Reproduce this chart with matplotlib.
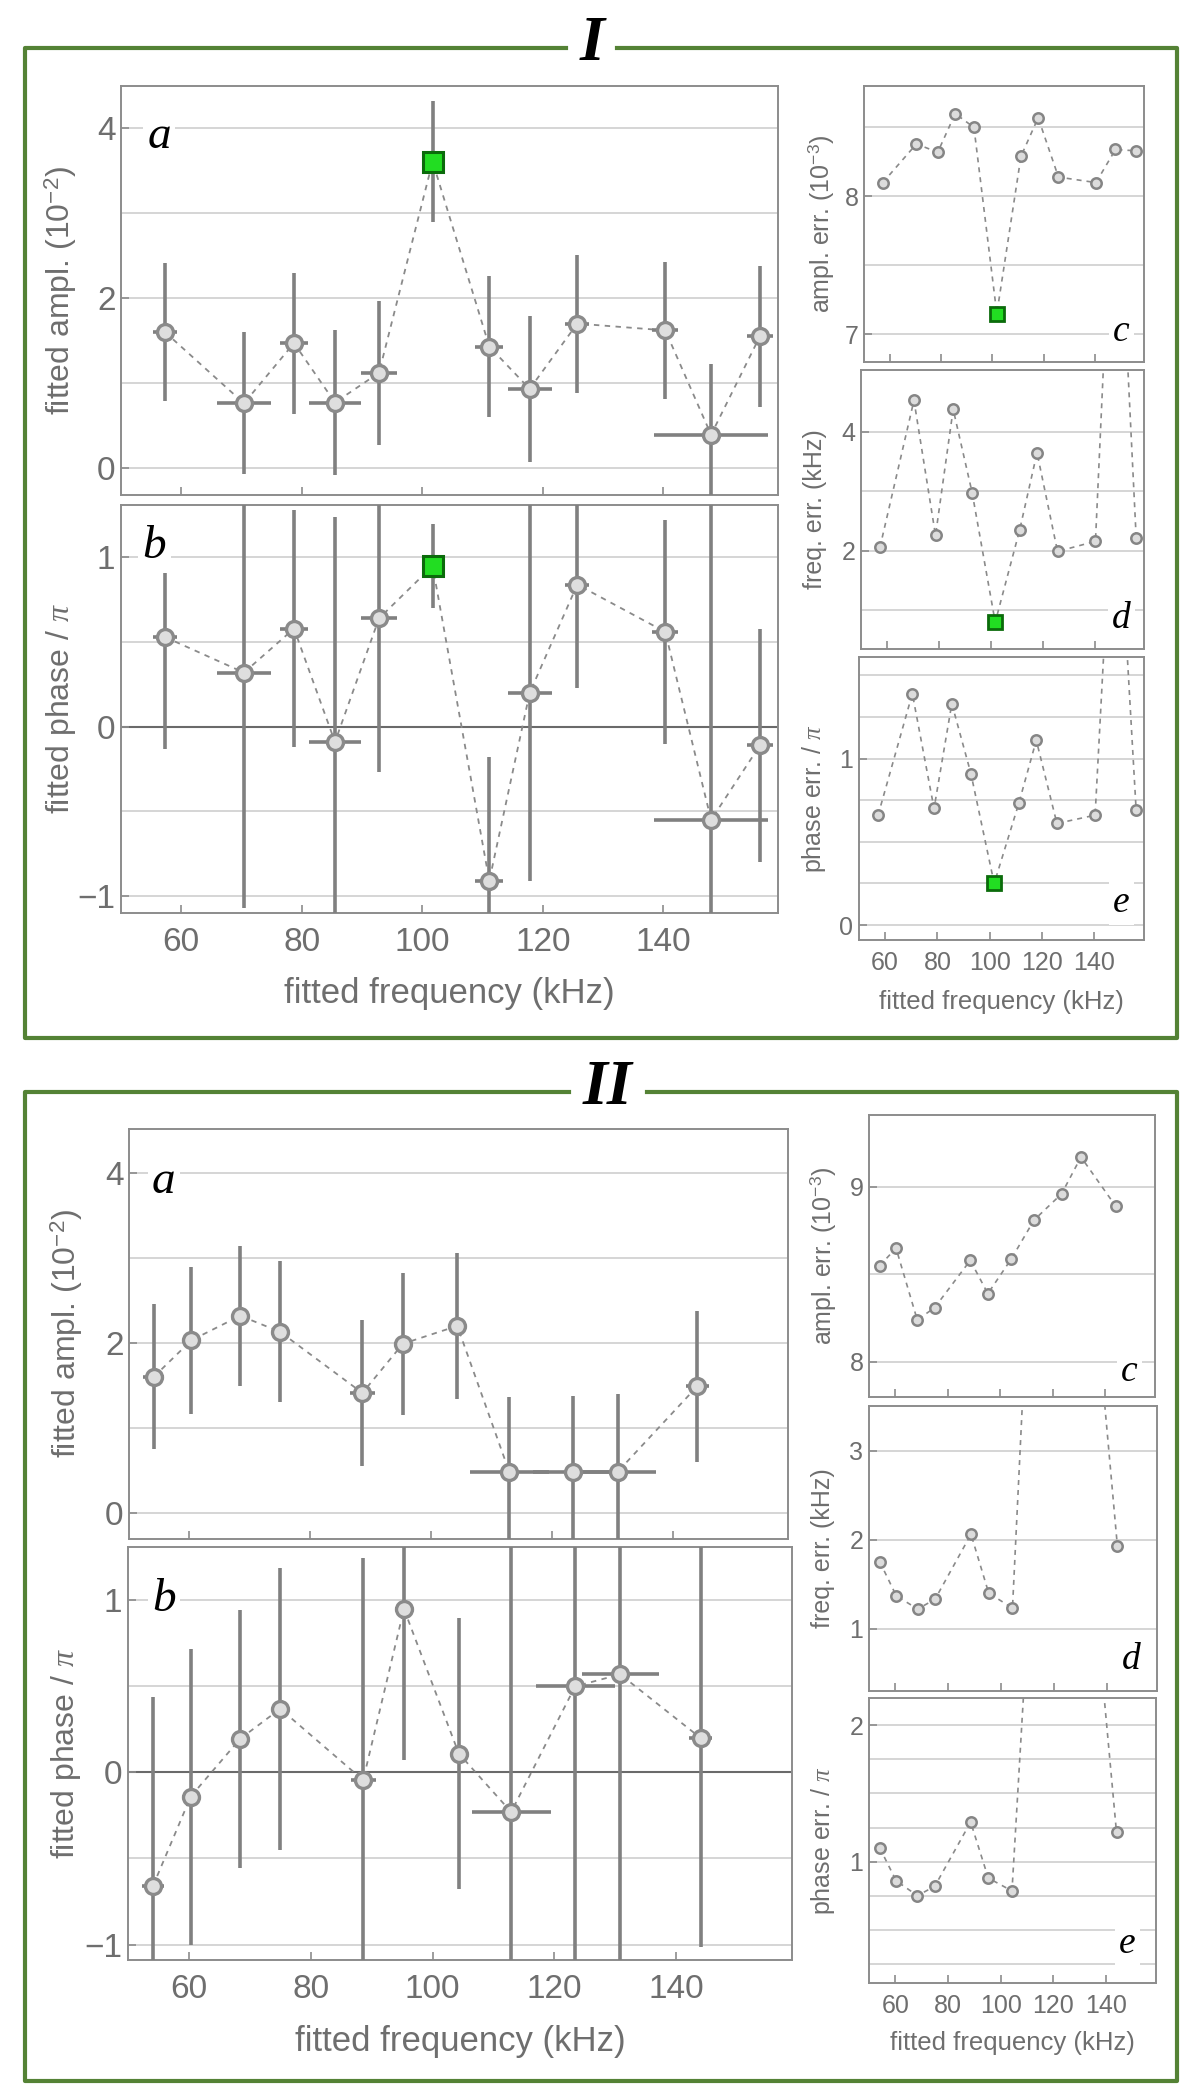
import matplotlib
matplotlib.use('Agg')
import matplotlib.pyplot as plt
from matplotlib.lines import Line2D

plt.rcParams['font.family'] = ['Liberation Sans', 'DejaVu Sans']
plt.rcParams['mathtext.fontset'] = 'custom'
plt.rcParams['mathtext.rm'] = 'Liberation Sans'
plt.rcParams['mathtext.it'] = 'Liberation Serif:italic'

# ---- panel I data ----
freq_I = [57.3, 70.4, 78.7, 85.5, 92.8, 101.7, 111.1, 117.8, 125.7, 140.3, 147.9, 156.0]
ampl_I = [1.60, 0.76, 1.47, 0.77, 1.12, 3.61, 1.43, 0.93, 1.70, 1.62, 0.39, 1.55]          # 1e-2
phase_I = [0.53, 0.32, 0.58, -0.09, 0.64, 0.95, -0.91, 0.20, 0.84, 0.56, -0.55, -0.11]    # / pi
ampl_err_I = [8.10, 8.38, 8.32, 8.60, 8.50, 7.15, 8.29, 8.57, 8.14, 8.10, 8.34, 8.33]     # 1e-3
freq_err_I = [2.06, 4.53, 2.26, 4.38, 2.98, 0.80, 2.35, 3.65, 1.99, 2.16, 9.4, 2.21]      # kHz
phase_err_I = [0.66, 1.39, 0.70, 1.33, 0.91, 0.25, 0.73, 1.11, 0.61, 0.66, 2.9, 0.69]     # / pi
best_I = 5

# ---- panel II data ----
freq_II = [54.1, 60.3, 68.4, 75.0, 88.6, 95.3, 104.3, 112.9, 123.4, 130.8, 144.0]
ampl_II = [1.60, 2.03, 2.32, 2.13, 1.41, 1.99, 2.20, 0.48, 0.48, 0.48, 1.49]
phase_II = [-0.66, -0.14, 0.195, 0.37, -0.045, 0.95, 0.11, -0.23, 0.50, 0.57, 0.20]
ampl_err_II = [8.55, 8.65, 8.24, 8.31, 8.58, 8.39, 8.59, 8.81, 8.96, 9.17, 8.89]
freq_err_II = [1.75, 1.37, 1.22, 1.33, 2.06, 1.40, 1.23, 6.5, 6.5, 6.3, 1.93]
phase_err_II = [1.10, 0.86, 0.75, 0.82, 1.29, 0.88, 0.785, 3.6, 3.8, 4.0, 1.215]

xticks = [60, 80, 100, 120, 140]

W, H = 1200, 2100
fig = plt.figure(figsize=(12, 21), dpi=100)
fig.patch.set_facecolor('white')

GREEN = '#548235'
TXT = '#6e6e6e'
SPINE = '#8c8c8c'


def box(l, t, r, b):
    # axes from pixel box (top-left origin)
    return fig.add_axes([l / W, 1 - b / H, (r - l) / W, (b - t) / H])


def style(ax, ylim, yticks, grid, fs, labels=True, zero=False, pad=6):
    ax.set_xlim(50, 159)
    ax.set_ylim(ylim)
    for s in ax.spines.values():
        s.set_color(SPINE)
        s.set_linewidth(1.4)
    ax.set_xticks(xticks)
    ax.set_yticks(yticks)
    ax.tick_params(direction='in', color=SPINE, labelcolor=TXT, labelsize=fs,
                   length=6, width=1.2, top=False, right=False, pad=pad)
    ax.tick_params(axis='y', pad=4)
    if not labels:
        ax.tick_params(labelbottom=False)
    for g in grid:
        ax.axhline(g, color='#d2d2d2', lw=1.3, zorder=0)
    if zero:
        ax.axhline(0, color='#6a6a6a', lw=1.5, zorder=0.5)


def big_plot(ax, f, y, ferr, yerr, hi=None):
    ax.plot(f, y, ls=(0, (3, 3)), color='#8a8a8a', lw=1.3, zorder=2)
    ax.errorbar(f, y, xerr=ferr, yerr=yerr, fmt='none', ecolor='#808080',
                elinewidth=2.6, capsize=0, zorder=3)
    idx = [i for i in range(len(f)) if i != hi]
    ax.plot([f[i] for i in idx], [y[i] for i in idx], 'o', ms=11.5, mfc='#dedede',
            mec='#8a8a8a', mew=2.4, zorder=4)
    if hi is not None:
        ax.plot(f[hi], y[hi], 's', ms=14, mfc='#22dd22', mec='#0b6b0b', mew=2.2, zorder=5)


def small_plot(ax, f, y, hi=None):
    ax.plot(f, y, ls=(0, (3, 3)), color='#8a8a8a', lw=1.2, zorder=2)
    idx = [i for i in range(len(f)) if i != hi]
    ax.plot([f[i] for i in idx], [y[i] for i in idx], 'o', ms=7.5, mfc='#dcdcdc',
            mec='#858585', mew=1.8, zorder=4)
    if hi is not None:
        ax.plot(f[hi], y[hi], 's', ms=10, mfc='#22dd22', mec='#0b6b0b', mew=2, zorder=5)


def tag(ax, s, x, y, fs, ha='left'):
    ax.text(x, y, s, transform=ax.transAxes, fontsize=fs, family='Liberation Serif',
            style='italic', ha=ha, va='center', zorder=10,
            bbox=dict(fc='white', ec='none', pad=3))


def ylab(ax, s, xpx, fs):
    ax.set_ylabel(s, fontsize=fs, color=TXT, va='center')
    l = ax.get_position().x0 * W
    w = ax.get_position().width * W
    ax.yaxis.set_label_coords((xpx - l) / w, 0.5)


def xlab(ax, s, ypx, fs):
    ax.set_xlabel(s, fontsize=fs, color=TXT, va='center')
    b = (1 - ax.get_position().y0) * H
    h = ax.get_position().height * H
    ax.xaxis.set_label_coords(0.5, -(ypx - b) / h)


# ---- frames and titles ----
bg = fig.add_axes([0, 0, 1, 1], zorder=-5)
bg.set_xlim(0, W)
bg.set_ylim(H, 0)
bg.axis('off')
for top, bot, g0, g1, title, tx in [(48, 1038, 566, 617, 'I', 592),
                                     (1092, 2081, 569, 647, 'II', 607)]:
    bg.add_line(Line2D([g0, 25, 25, 1177, 1177, g1], [top, top, bot, bot, top, top],
                       color=GREEN, lw=3))
    bg.text(tx, top - 3, title, fontsize=46, family='Liberation Serif', weight='bold',
            style='italic', ha='center', va='center')

# ---- panel I ----
a1 = box(121, 86, 778, 495)
style(a1, (-0.32, 4.5), [0, 2, 4], [0, 1, 2, 3, 4], 24, labels=False)
big_plot(a1, freq_I, ampl_I, freq_err_I, [e / 10 for e in ampl_err_I], best_I)
tag(a1, 'a', 0.040, 0.875, 34)
ylab(a1, r'fitted ampl. (10$^{-2}$)', 61, 23)

b1 = box(121, 505, 778, 913)
style(b1, (-1.1, 1.31), [-1, 0, 1], [-1, -0.5, 0.5, 1], 24, zero=True, pad=10)
big_plot(b1, freq_I, phase_I, freq_err_I, phase_err_I, best_I)
tag(b1, 'b', 0.033, 0.897, 34)
ylab(b1, r'fitted phase / $\pi$', 61, 23)
xlab(b1, 'fitted frequency (kHz)', 993, 25)

c1 = box(864, 86, 1144, 362)
style(c1, (6.8, 8.8), [7, 8], [7, 7.5, 8, 8.5], 18, labels=False)
small_plot(c1, freq_I, ampl_err_I, best_I)
tag(c1, 'c', 0.92, 0.11, 27, ha='center')
ylab(c1, r'ampl. err. (10$^{-3}$)', 821, 18)

d1 = box(861, 370, 1144, 649)
style(d1, (0.35, 5.04), [2, 4], [1, 2, 3, 4], 18, labels=False)
small_plot(d1, freq_I, freq_err_I, best_I)
tag(d1, 'd', 0.92, 0.11, 27, ha='center')
ylab(d1, 'freq. err. (kHz)', 815, 18)

e1 = box(859, 657, 1144, 940)
style(e1, (-0.09, 1.61), [0, 1], [0, 0.25, 0.5, 0.75, 1, 1.25, 1.5], 18, pad=8)
small_plot(e1, freq_I, phase_err_I, best_I)
tag(e1, 'e', 0.92, 0.13, 27, ha='center')
ylab(e1, r'phase err. / $\pi$', 814, 18)
xlab(e1, 'fitted frequency (kHz)', 1002, 18.5)

# ---- panel II ----
a2 = box(129, 1129, 788, 1539)
style(a2, (-0.31, 4.52), [0, 2, 4], [0, 1, 2, 3, 4], 24, labels=False)
big_plot(a2, freq_II, ampl_II, freq_err_II, [e / 10 for e in ampl_err_II])
tag(a2, 'a', 0.035, 0.871, 34)
ylab(a2, r'fitted ampl. (10$^{-2}$)', 67, 23)

b2 = box(128, 1547, 792, 1960)
style(b2, (-1.09, 1.31), [-1, 0, 1], [-1, -0.5, 0.5, 1], 24, zero=True, pad=10)
big_plot(b2, freq_II, phase_II, freq_err_II, phase_err_II)
tag(b2, 'b', 0.037, 0.872, 34)
ylab(b2, r'fitted phase / $\pi$', 66, 23)
xlab(b2, 'fitted frequency (kHz)', 2042, 25)

c2 = box(869, 1115, 1155, 1397)
style(c2, (7.8, 9.41), [8, 9], [8, 8.5, 9], 18, labels=False)
small_plot(c2, freq_II, ampl_err_II)
tag(c2, 'c', 0.91, 0.09, 27, ha='center')
ylab(c2, r'ampl. err. (10$^{-3}$)', 823, 18)

d2 = box(869, 1406, 1157, 1691)
style(d2, (0.3, 3.5), [1, 2, 3], [1, 2, 3], 18, labels=False)
small_plot(d2, freq_II, freq_err_II)
tag(d2, 'd', 0.91, 0.11, 27, ha='center')
ylab(d2, 'freq. err. (kHz)', 823, 18)

e2 = box(869, 1698, 1156, 1983)
style(e2, (0.11, 2.2), [1, 2], [0.25, 0.5, 0.75, 1, 1.25, 1.5, 1.75, 2], 18, pad=8)
small_plot(e2, freq_II, phase_err_II)
tag(e2, 'e', 0.90, 0.137, 27, ha='center')
ylab(e2, r'phase err. / $\pi$', 823, 18)
xlab(e2, 'fitted frequency (kHz)', 2043, 18.5)

plt.savefig('out.png', dpi=100, facecolor='white')
